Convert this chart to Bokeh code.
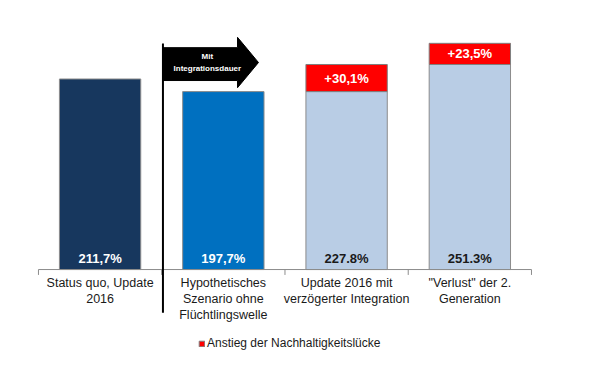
from bokeh.plotting import figure
from bokeh.models import ColumnDataSource, Legend, LegendItem, Range1d
from bokeh.core.properties import value
from bokeh.embed import file_html
from bokeh.resources import INLINE

# ---- data ----
categories = ["Status quo, Update\n2016",
              "Hypothetisches\nSzenario ohne\nFlüchtlingswelle",
              "Update 2016 mit\nverzögerter Integration",
              "\"Verlust\" der 2.\nGeneration"]
base_values = [211.7, 197.7, 197.7, 227.8]
increase_values = [0.0, 0.0, 30.1, 23.5]
total_labels = ["211,7%", "197,7%", "227.8%", "251.3%"]
increase_labels = ["", "", "+30,1%", "+23,5%"]
base_colors = ["#17375E", "#0070C0", "#B9CDE5", "#B9CDE5"]
total_label_colors = ["white", "white", "#1a1a1a", "#1a1a1a"]
legend_label = "Anstieg der Nachhaltigkeitslücke"
arrow_text = "Mit\nIntegrationsdauer"

FONT = "Liberation Sans"
n = len(categories)
xs = [i + 0.5 for i in range(n)]

p = figure(width=600, height=372, output_backend="svg", toolbar_location=None,
           x_range=Range1d(-0.308, 4.560), y_range=Range1d(-114.4, 298.9),
           min_border=0, min_border_left=0, min_border_right=0,
           min_border_top=0, min_border_bottom=0)
p.axis.visible = False
p.grid.visible = False
p.outline_line_color = None
p.background_fill_color = "white"

# base bars
src = ColumnDataSource(dict(x=xs, top=base_values, color=base_colors,
                            lab=total_labels, lc=total_label_colors))
p.vbar(x="x", top="top", bottom=0, width=0.66, fill_color="color",
       line_color="#8c8c8c", line_width=1, source=src)

# increase segments (only where present)
ix = [xs[i] for i in range(n) if increase_values[i] > 0]
ib = [base_values[i] for i in range(n) if increase_values[i] > 0]
it = [base_values[i] + increase_values[i] for i in range(n) if increase_values[i] > 0]
il = [increase_labels[i] for i in range(n) if increase_values[i] > 0]
isrc = ColumnDataSource(dict(x=ix, bottom=ib, top=it,
                             mid=[(b + t) / 2 for b, t in zip(ib, it)], lab=il))
red = p.vbar(x="x", top="top", bottom="bottom", width=0.66, fill_color="#FF0000",
             line_color="#7f7f7f", line_width=1, source=isrc)
p.text(x="x", y="mid", text="lab", source=isrc, text_color="white",
       text_font=value(FONT), text_font_style="bold", text_font_size="13px",
       text_align="center", text_baseline="middle")

# total labels at bar bottom
p.text(x="x", y=12.5, text="lab", text_color="lc", source=src,
       text_font=value(FONT), text_font_style="bold", text_font_size="13px",
       text_align="center", text_baseline="middle")

# baseline + tick marks
p.segment(x0=[0], y0=[0], x1=[n], y1=[0], line_color="#8c8c8c", line_width=1)
p.segment(x0=list(range(n + 1)), y0=[0] * (n + 1), x1=list(range(n + 1)),
          y1=[-6] * (n + 1), line_color="#8c8c8c", line_width=1)

# category labels
p.text(x=xs, y=[-7.5] * n, text=categories, text_color="#1a1a1a",
       text_font=value(FONT), text_font_size="12.5px", text_align="center",
       text_baseline="top", text_line_height=1.12)

# vertical separator line
p.segment(x0=[1.01], y0=[251], x1=[1.01], y1=[-48], line_color="black", line_width=2)

# arrow
ax = [1.01, 1.615, 1.615, 1.785, 1.615, 1.615, 1.01]
ay = [246.5, 246.5, 258, 230, 202, 210, 210]
p.patch(ax, ay, fill_color="black", line_color="black")
p.text(x=[1.37], y=[230], text=[arrow_text], text_color="white",
       text_font=value(FONT), text_font_style="bold", text_font_size="8px",
       text_align="center", text_baseline="middle", text_line_height=1.25)

legend = Legend(items=[LegendItem(label=legend_label, renderers=[red])],
                location=(198, 22), orientation="horizontal",
                glyph_width=7, glyph_height=7, label_standoff=2,
                label_text_font=FONT, label_text_font_size="12px",
                label_text_color="#1a1a1a", padding=0, margin=0,
                border_line_color=None, background_fill_alpha=0)
p.add_layout(legend)

open("out.html", "w").write(file_html(p, INLINE))
